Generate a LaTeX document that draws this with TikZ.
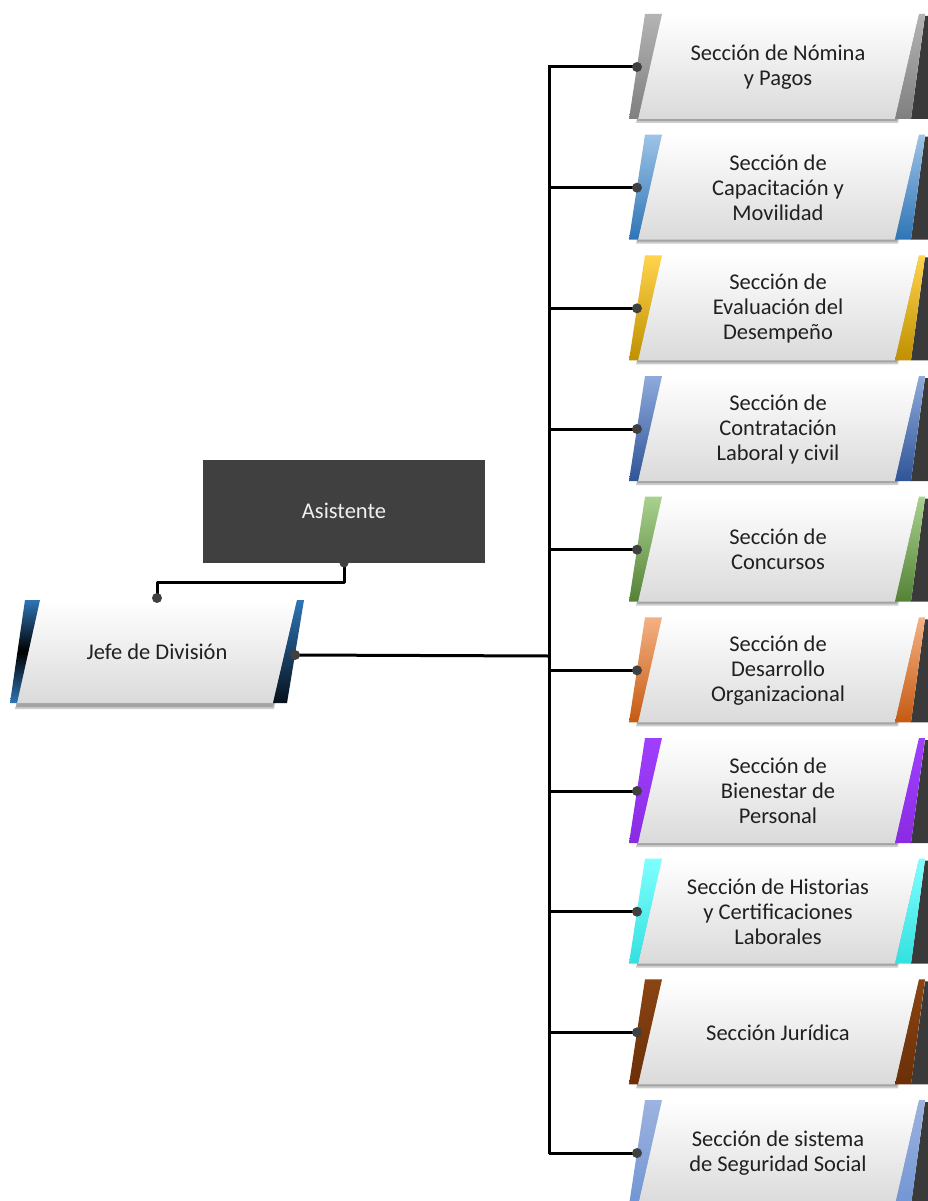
\documentclass[tikz,border=0pt]{standalone}
\usepackage{fontspec}
\setmainfont{Carlito}
\usetikzlibrary{calc}
\definecolor{txt}{HTML}{202020}
\definecolor{dark}{HTML}{404040}
\definecolor{side}{HTML}{3A3A3A}
\definecolor{bodyb}{HTML}{DADADA}
\definecolor{ca1}{HTML}{B4B4B4}\definecolor{cb1}{HTML}{7F7F7F}
\definecolor{ca2}{HTML}{9DC3E6}\definecolor{cb2}{HTML}{2E75B6}
\definecolor{ca3}{HTML}{FFD34D}\definecolor{cb3}{HTML}{BF9000}
\definecolor{ca4}{HTML}{8FAADC}\definecolor{cb4}{HTML}{2F5597}
\definecolor{ca5}{HTML}{A9D18E}\definecolor{cb5}{HTML}{548235}
\definecolor{ca6}{HTML}{F4B183}\definecolor{cb6}{HTML}{C55A11}
\definecolor{ca7}{HTML}{A040FF}\definecolor{cb7}{HTML}{8A2BE2}
\definecolor{ca8}{HTML}{7FFFFF}\definecolor{cb8}{HTML}{33E0E0}
\definecolor{ca9}{HTML}{8B4513}\definecolor{cb9}{HTML}{6B2F08}
\definecolor{ca10}{HTML}{9DB3E0}\definecolor{cb10}{HTML}{7195D4}
\definecolor{jblue}{HTML}{2E75B6}
\tikzset{
  boxtext/.style={text=txt,align=center,inner sep=0pt,font=\fontsize{22.5}{25}\selectfont},
  conn/.style={black,line width=3pt},
  dotc/.style={fill=dark},
  shadowfill/.style={fill=black,opacity=0.2},
}
\newcommand{\secbox}[5]{%
  \begin{scope}[shift={(0,#2)}]
    \fill[shadowfill] (662,-50) -- (921,-50) -- (898,56) -- (636,56) -- cycle;
    \fill[shadowfill] (662,-51) -- (920,-51) -- (897,54) -- (637,54) -- cycle;
    \fill[side] (925,-51) -- (960,-51) -- (960,52) -- (911,52) -- cycle;
    \shade[top color=white,bottom color=bodyb] (662,-53) -- (919,-53) -- (895,52) -- (638,52) -- cycle;
    \shade[top color=ca#3,bottom color=cb#3] (645,-53) -- (662,-53) -- (638,52) -- (629,52) -- cycle;
    \shade[top color=ca#3,bottom color=cb#3] (919,-53) -- (925,-53) -- (911,52) -- (895,52) -- cycle;
    \node[boxtext] (#1) at (778,0) {#4};
    \coordinate (#1dot) at (637,0);
  \end{scope}}
\begin{document}
\begin{tikzpicture}[x=1pt,y=-1pt,line join=round]
\clip (0,0) rectangle (928,1201);
\fill[white] (0,0) rectangle (928,1201);
% section boxes
\foreach \i/\t in {1/{Sección de Nómina\\y Pagos},
  2/{Sección de\\Capacitación y\\Movilidad},
  3/{Sección de\\Evaluación del\\Desempeño},
  4/{Sección de\\Contratación\\Laboral y civil},
  5/{Sección de\\Concursos},
  6/{Sección de\\Desarrollo\\Organizacional},
  7/{Sección de\\Bienestar de\\Personal},
  8/{Sección de Historias\\y Certificaciones\\Laborales},
  9/{Sección Jurídica},
  10/{Sección de sistema\\de Seguridad Social}}{
  \pgfmathsetmacro{\yy}{67+(\i-1)*120.67}
  \secbox{s\i}{\yy}{\i}{\t}
}
% Asistente
\fill[dark] (203,460) rectangle (485,563);
\node[text=white!94!black,inner sep=0pt,font=\fontsize{22.5}{25}\selectfont] (asis) at (344,511) {Asistente};
\coordinate (asisdot) at (344,563);
% Jefe de División
\fill[shadowfill] (40,603) -- (297,603) -- (274,709) -- (15,709) -- cycle;
\fill[shadowfill] (40,602) -- (297,602) -- (273,707) -- (16,707) -- cycle;
\shade[top color=white,bottom color=bodyb] (40,600) -- (297,600) -- (273,703) -- (17,703) -- cycle;
\shade[top color=jblue,bottom color=jblue,middle color=black] (25,600) -- (40,600) -- (17,703) -- (10,703) -- cycle;
\shade[top color=jblue,bottom color=black!85!jblue] (297,600) -- (304,600) -- (287,703) -- (273,703) -- cycle;
\node[boxtext] (jefe) at (157,652) {Jefe de División};
\coordinate (jefetop) at (157,598);
\coordinate (jeferight) at (295,655);
% bus
\coordinate (bustop) at (549,67);
\coordinate (busbot) at (549,1152.4);
\coordinate (busj) at (549,656);
\draw[conn,line cap=rect] (bustop) -- (busbot);
\foreach \i in {1,...,10}{
  \draw[conn] (s\i dot -| bustop) -- (s\i dot);
  \fill[dotc] (s\i dot) circle (5);
}
\draw[conn] (jeferight) -- (busj);
\fill[dotc] (jeferight) circle (5);
\draw[conn] (asisdot) -- ++(0,19) -| (jefetop);
\fill[dotc] (jefetop) circle (5);
\fill[dotc] (asisdot) circle (4.5);
\end{tikzpicture}
\end{document}
